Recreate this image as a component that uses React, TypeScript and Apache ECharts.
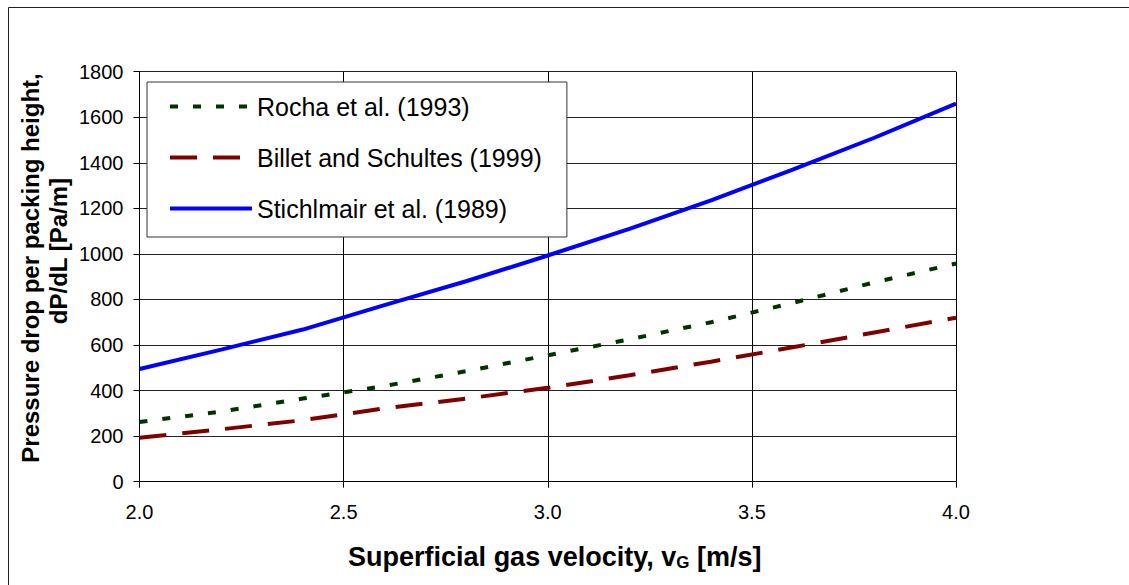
import React, { useEffect, useRef } from "react";
import * as echarts from "echarts";

// Superficial gas velocity, m/s
const velocity = [2.0, 2.2, 2.4, 2.6, 2.8, 3.0, 3.2, 3.4, 3.6, 3.8, 4.0];
// Pressure drop per packing height, Pa/m
const rocha = [262, 308, 365, 420, 485, 555, 625, 700, 785, 875, 958];
const billet = [193, 230, 270, 322, 365, 412, 467, 527, 590, 655, 720];
const stichlmair = [495, 580, 668, 775, 880, 993, 1110, 1235, 1370, 1510, 1660];

const seriesNames = [
  "Rocha et al. (1993)",
  "Billet and Schultes (1999)",
  "Stichlmair et al. (1989)",
];

const FONT = "'Liberation Sans', Arial, Helvetica, sans-serif";

const pairs = (ys: number[]) => velocity.map((x, i) => [x, ys[i]]);

export default function App() {
  const ref = useRef<HTMLDivElement>(null);

  useEffect(() => {
    if (!ref.current) return;
    const chart = echarts.init(ref.current, undefined, { renderer: "svg" });

    chart.setOption({
      animation: false,
      backgroundColor: "#ffffff",
      textStyle: { fontFamily: FONT, color: "#000" },
      grid: { left: 139.5, top: 71.7, width: 816.5, height: 410, containLabel: false },
      graphic: [
        {
          type: "rect",
          z: -10,
          silent: true,
          shape: { x: 8.5, y: 7.5, width: 1140, height: 600 },
          style: { fill: "none", stroke: "#222", lineWidth: 1 },
        },
        {
          type: "text",
          x: 30,
          y: 268,
          rotation: Math.PI / 2,
          silent: true,
          style: {
            text: "Pressure drop per packing height,",
            font: `bold 24px ${FONT}`,
            fill: "#000",
            align: "center",
            verticalAlign: "middle",
          },
        },
        {
          type: "text",
          x: 58,
          y: 251,
          rotation: Math.PI / 2,
          silent: true,
          style: {
            text: "dP/dL [Pa/m]",
            font: `bold 24px ${FONT}`,
            fill: "#000",
            align: "center",
            verticalAlign: "middle",
          },
        },
      ],
      legend: {
        orient: "vertical",
        left: 147,
        top: 82,
        data: seriesNames,
        backgroundColor: "#ffffff",
        borderColor: "#333",
        borderWidth: 1,
        borderRadius: 0,
        padding: [12, 25, 16, 21],
        itemGap: 26,
        itemWidth: 82,
        itemHeight: 14,
        itemTextGap: 8,
        itemStyle: { opacity: 0 },
        lineStyle: { width: 4 },
        textStyle: { fontFamily: FONT, fontSize: 25, color: "#000" },
      },
      xAxis: {
        type: "value",
        min: 2,
        max: 4,
        interval: 0.5,
        name: "Superficial gas velocity, v{sub|G} [m/s]",
        nameLocation: "middle",
        nameGap: 62,
        nameTextStyle: {
          fontFamily: FONT,
          fontSize: 27,
          fontWeight: "bold",
          color: "#000",
          padding: [0, 0, 0, 14],
          rich: {
            sub: {
              fontFamily: FONT,
              fontSize: 17,
              fontWeight: "bold",
              color: "#000",
              verticalAlign: "bottom",
            },
          },
        },
        axisLine: { show: true, lineStyle: { color: "#000", width: 1 } },
        axisTick: { show: true, length: 6, inside: false, lineStyle: { color: "#000" } },
        axisLabel: {
          margin: 20,
          fontFamily: FONT,
          fontSize: 20,
          color: "#000",
          formatter: (v: number) => v.toFixed(1),
        },
        splitLine: { show: true, lineStyle: { color: "#000", width: 1 } },
      },
      yAxis: {
        type: "value",
        min: 0,
        max: 1800,
        interval: 200,
        axisLine: { show: true, lineStyle: { color: "#000", width: 1 } },
        axisTick: { show: true, length: 6, inside: false, lineStyle: { color: "#000" } },
        axisLabel: {
          margin: 16,
          fontFamily: FONT,
          fontSize: 20,
          color: "#000",
          formatter: (v: number) => String(v),
        },
        splitLine: { show: true, lineStyle: { color: "#222", width: 1 } },
      },
      series: [
        {
          name: seriesNames[0],
          type: "line",
          data: pairs(rocha),
          symbol: "none",
          z: 3,
          lineStyle: { color: "#003300", width: 4, type: [8, 15] },
          itemStyle: { color: "#003300" },
        },
        {
          name: seriesNames[1],
          type: "line",
          data: pairs(billet),
          symbol: "none",
          z: 3,
          lineStyle: { color: "#800000", width: 4, type: [27, 16] },
          itemStyle: { color: "#800000" },
        },
        {
          name: seriesNames[2],
          type: "line",
          data: pairs(stichlmair),
          symbol: "none",
          z: 3,
          lineStyle: { color: "#0000ff", width: 4, type: "solid" },
          itemStyle: { color: "#0000ff" },
        },
      ],
    });

    return () => chart.dispose();
  }, []);

  return (
    <div
      ref={ref}
      style={{ position: "fixed", left: 0, top: 0, width: 1129, height: 585 }}
    />
  );
}
